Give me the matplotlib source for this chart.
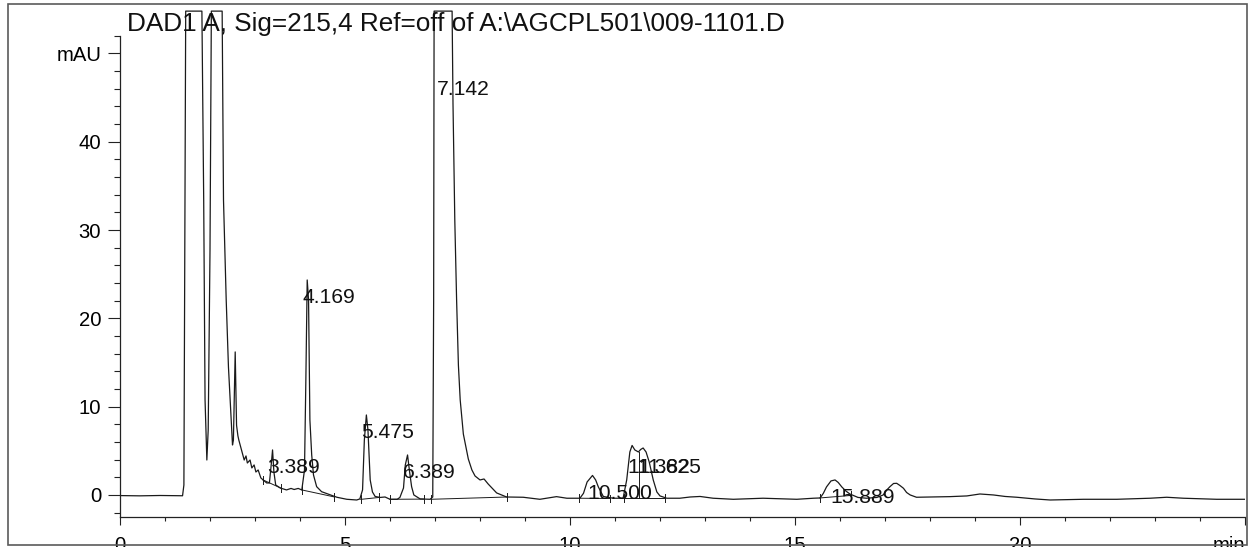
import numpy as np
import matplotlib
matplotlib.use("Agg")
import matplotlib.pyplot as plt
from matplotlib import font_manager as fm
from matplotlib.patches import Rectangle

# ---------------- data ----------------
time_min = [0.00, 0.44, 0.89, 1.39, 1.42, 1.46, 1.82, 1.86, 1.89, 1.93, 1.96, 2.00, 2.03,
            2.27, 2.30, 2.36, 2.41, 2.47, 2.50, 2.52, 2.56, 2.59, 2.62, 2.64, 2.70, 2.76,
            2.80, 2.83, 2.89, 2.93, 2.98, 3.02, 3.07, 3.13, 3.18, 3.26, 3.32, 3.36, 3.39,
            3.42, 3.46, 3.56, 3.70, 3.80, 3.87, 3.96, 4.04, 4.10, 4.13, 4.16, 4.19, 4.22,
            4.26, 4.30, 4.37, 4.48, 4.59, 4.82, 5.04, 5.26, 5.33, 5.39, 5.43, 5.475, 5.51,
            5.56, 5.61, 5.67, 5.78, 5.89, 6.00, 6.16, 6.22, 6.30, 6.34, 6.39, 6.43, 6.48,
            6.53, 6.67, 6.89, 6.95, 6.97, 6.98, 7.38, 7.40, 7.44, 7.48, 7.52, 7.56, 7.63,
            7.74, 7.82, 7.89, 8.00, 8.09, 8.18, 8.37, 8.59, 8.96, 9.33, 9.70, 9.93, 10.22,
            10.30, 10.38, 10.50, 10.57, 10.63, 10.74, 10.96, 11.18, 11.26, 11.33, 11.38,
            11.44, 11.52, 11.57, 11.625, 11.69, 11.76, 11.85, 11.93, 12.00, 12.15, 12.44,
            12.67, 12.89, 13.18, 13.63, 14.29, 15.04, 15.41, 15.56, 15.63, 15.70, 15.80,
            15.89, 15.96, 16.04, 16.13, 16.22, 16.40, 16.59, 16.82, 16.96, 17.04, 17.11,
            17.19, 17.26, 17.33, 17.41, 17.48, 17.56, 17.70, 18.07, 18.44, 18.82, 19.11,
            19.41, 19.67, 19.93, 20.33, 20.67, 21.41, 22.15, 22.89, 23.26, 23.63, 24.37,
            25.00]
signal_mau = [-0.07, -0.10, -0.06, -0.09, 1.13, 54.8, 54.8, 33.4, 10.76, 3.96, 7.36, 27.7,
              54.8, 54.8, 33.4, 22.1, 14.5, 8.5, 5.66, 6.2, 16.2, 7.9, 6.7, 6.23, 5.10,
              3.96, 4.42, 3.62, 3.96, 3.06, 3.40, 2.60, 2.83, 1.93, 1.70, 1.36, 1.36, 3.40,
              5.10, 2.60, 1.13, 0.79, 0.57, 0.74, 0.62, 0.74, 0.57, 2.83, 13.0, 24.35, 22.1,
              8.5, 4.53, 2.26, 0.94, 0.37, 0.17, -0.26, -0.49, -0.57, -0.45, 0.57, 6.23,
              9.06, 7.36, 1.70, 0.34, -0.17, -0.28, -0.23, -0.49, -0.49, -0.28, 0.79, 3.40,
              4.53, 2.83, 0.94, 0.00, -0.45, -0.49, -0.23, 22.1, 54.8, 54.8, 44.3, 31.1,
              22.1, 14.7, 10.76, 6.9, 4.08, 2.83, 2.15, 1.70, 1.81, 1.25, 0.23, -0.23,
              -0.26, -0.49, -0.19, -0.37, -0.37, 0.19, 1.47, 2.21, 1.70, 0.91, -0.17,
              -0.37, -0.37, 1.70, 4.87, 5.61, 5.10, 4.87, 5.15, 5.32, 4.87, 3.74, 1.70,
              0.34, -0.11, -0.37, -0.37, -0.23, -0.17, -0.37, -0.49, -0.37, -0.49, -0.37,
              -0.34, 0.19, 0.91, 1.59, 1.70, 1.42, 0.91, 0.45, 0.11, -0.28, -0.37, -0.28,
              0.00, 0.57, 0.94, 1.30, 1.32, 1.08, 0.76, 0.28, 0.00, -0.26, -0.23, -0.19,
              -0.11, 0.11, 0.00, -0.17, -0.26, -0.45, -0.57, -0.49, -0.49, -0.37, -0.26,
              -0.37, -0.49, -0.49]

peak_labels = ["3.389", "4.169", "5.475", "6.389", "7.142", "10.500", "11.382", "11.625", "15.889"]
peak_rt = [3.389, 4.169, 5.475, 6.389, 7.142, 10.500, 11.382, 11.625, 15.889]
label_height = [5.10, 24.35, 9.06, 4.53, 47.9, 2.15, 5.10, 5.10, 1.70]

# integration baselines: start time, start mAU, end time, end mAU
base_t0 = [3.18, 4.04, 5.35, 6.00, 6.91, 10.21, 11.19, 15.55]
base_y0 = [1.70, 0.57, -0.50, -0.49, -0.49, -0.37, -0.37, -0.34]
base_t1 = [3.57, 4.76, 5.76, 6.76, 8.61, 10.89, 12.10, 16.25]
base_y1 = [0.79, -0.22, -0.28, -0.47, -0.23, -0.40, -0.37, -0.05]
drop_t = [11.53]
drop_y = [4.87]

x_major = [0, 5, 10, 15, 20, 25]
x_labels = ["0", "5", "10", "15", "20", "min"]
y_major = [0, 10, 20, 30, 40, 50]
y_labels = ["0", "10", "20", "30", "40", "mAU"]
title = "DAD1 A, Sig=215,4 Ref=off of A:\\AGCPL501\\009-1101.D"

# ---------------- fonts ----------------
def available(fam):
    try:
        fm.findfont(fm.FontProperties(family=fam), fallback_to_default=False)
        return True
    except Exception:
        return False

if available("Liberation Sans Narrow"):
    FONT = "Liberation Sans Narrow"
    s_tick, s_peak, s_title = 16.6, 17.3, 22.5
else:
    FONT = "Liberation Sans"
    s_tick, s_peak, s_title = 14.6, 15.2, 18.8
plt.rcParams["font.family"] = [FONT, "DejaVu Sans"]

# ---------------- figure ----------------
W, H = 1250, 547
fig = plt.figure(figsize=(W / 100, H / 100), dpi=100)
ax_left, ax_right, ax_top, ax_bottom = 120, 1245, 9.35, 517.3
ax = fig.add_axes([ax_left / W, (H - ax_bottom) / H,
                   (ax_right - ax_left) / W, (ax_bottom - ax_top) / H])
ax.set_xlim(0, 25)
ax.set_ylim(-2.53, 55.0)

ax.plot(time_min, signal_mau, color="#1a1a1a", lw=0.9, solid_joinstyle="round")

# integration baselines with start/end marks
for t0, y0, t1, y1 in zip(base_t0, base_y0, base_t1, base_y1):
    ax.plot([t0, t1], [y0, y1], color="#1a1a1a", lw=0.7)
    for t, y in ((t0, y0), (t1, y1)):
        ax.plot([t, t], [y - 0.45, y + 0.45], color="#1a1a1a", lw=0.7)
for t, y in zip(drop_t, drop_y):
    yb = np.interp(t, [base_t0[6], base_t1[6]], [base_y0[6], base_y1[6]])
    ax.plot([t, t], [yb, y], color="#1a1a1a", lw=0.7)

for lab, t, y in zip(peak_labels, peak_rt, label_height):
    ax.annotate(lab, xy=(t, y), xytext=(-3.6, -5.8), textcoords="offset points",
                ha="left", va="top", fontsize=s_peak, color="#111111")

# axes styling
for side in ("top", "right"):
    ax.spines[side].set_visible(False)
ax.spines["left"].set_bounds(-2.53, 52)
for side in ("left", "bottom"):
    ax.spines[side].set_linewidth(0.9)
    ax.spines[side].set_color("#222222")

ax.set_xticks(x_major)
ax.set_xticklabels(x_labels)
ax.set_xticks(np.arange(0, 26, 1), minor=True)
ax.set_yticks(y_major)
ax.set_yticklabels(y_labels)
ax.set_yticks(np.arange(-2, 53, 2), minor=True)
ax.tick_params(axis="y", which="major", length=8.6, width=0.8, pad=5, labelsize=s_tick, color="#222222")
ax.tick_params(axis="y", which="minor", length=4.3, width=0.8, color="#222222")
ax.tick_params(axis="x", which="major", length=5.8, width=0.8, pad=7.5, labelsize=s_tick, color="#222222")
ax.tick_params(axis="x", which="minor", length=2.9, width=0.8, color="#222222")
xt = ax.get_xticklabels()
xt[-1].set_ha("right")

fig.text(127 / W, 1 - 12 / H, title, ha="left", va="top", fontsize=s_title, color="#111111")

# outer frame
fig.add_artist(Rectangle((7.5 / W, 2.5 / H), (1247 - 7.5) / W, (544.5 - 3.5) / H,
                         transform=fig.transFigure, fill=False, lw=1.2, ec="#5a5a5a"))
rect = fig.patches[-1] if fig.patches else None

fig.savefig("out.png", dpi=100)
